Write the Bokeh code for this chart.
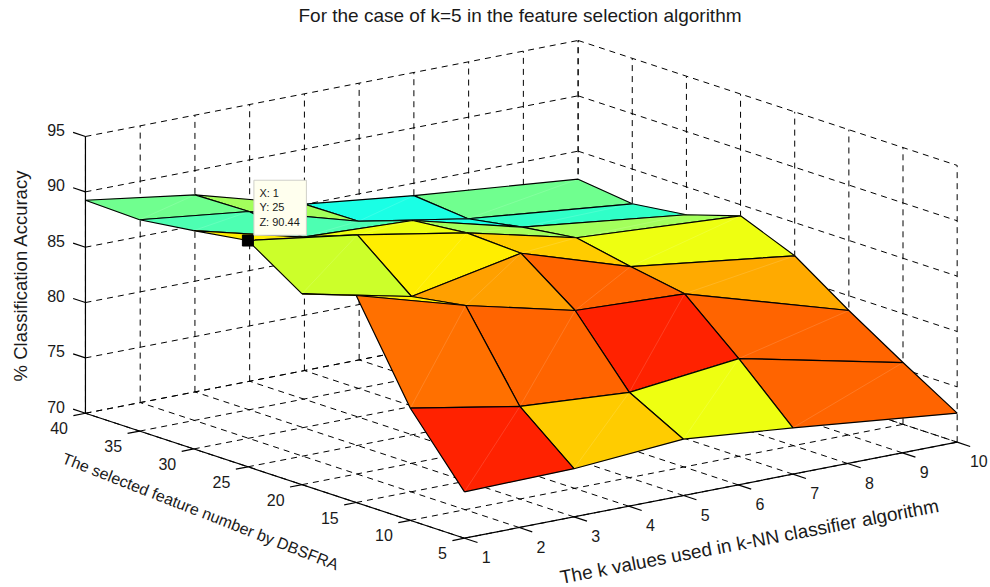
from bokeh.plotting import figure
from bokeh.models import Range1d
from bokeh.embed import file_html
from bokeh.resources import INLINE
from bokeh.core.properties import value

TITLE = "For the case of k=5 in the feature selection algorithm"
X_LABEL = "The k values used in k-NN classifier algorithm"
Y_LABEL = "The selected feature number by DBSFRA"
Z_LABEL = "% Classification Accuracy"

x_ticks = [1, 2, 3, 4, 5, 6, 7, 8, 9, 10]
y_ticks = [5, 10, 15, 20, 25, 30, 35, 40]
z_ticks = [70, 75, 80, 85, 90, 95]

k_values = [1, 3, 5, 7, 10]
feature_numbers = [5, 10, 15, 20, 25, 30, 35, 40]
acc_f5 = [74.19, 74.35, 75.09, 74.19, 72.62]
acc_f10 = [80.13, 78.36, 77.71, 78.83, 75.58]
acc_f15 = [88.70, 85.87, 83.49, 83.07, 78.67]
acc_f20 = [87.24, 85.07, 87.05, 83.92, 82.00]
acc_f25 = [90.44, 89.03, 87.28, 84.91, 84.00]
acc_f30 = [89.73, 87.20, 86.78, 84.25, 82.48]
acc_f35 = [89.09, 87.91, 85.10, 83.40, 81.86]
acc_f40 = [89.24, 87.80, 85.04, 83.88, 82.47]
accuracy = [acc_f5, acc_f10, acc_f15, acc_f20, acc_f25, acc_f30, acc_f35, acc_f40]

RED, O1, O2, O3, O4, O5 = "#ff2200", "#ff6400", "#ff7000", "#ffa000", "#ffaa00", "#ffcc00"
YE, YL, LI, LG, GR, CG, CY = "#ffee00", "#eeff11", "#ccff2a", "#a3ff5c", "#70ff8f", "#4dffb2", "#1affe5"
face_colours = [
    [RED, O5, YL, O1],
    [O2, O1, RED, O1],
    [YE, O3, O1, O4],
    [LI, YE, O5, YL],
    [YE, YL, LG, LG],
    [CG, CG, CY, "#30ffc8"],
    [GR, LG, CY, GR],
]

tip_point = (1, 25, 90.44)


def project(x, y, z):
    px = 464 + 54.74 * (x - 1) - 10.83 * (y - 5)
    py = 537.7 - 10.67 * (x - 1) - 3.57 * (y - 5) - 11.07 * (z - 70)
    return px, py


def segment(a, b):
    pa, pb = project(*a), project(*b)
    return [pa[0], pb[0]], [pa[1], pb[1]]


FONT = value("Liberation Sans")
INK = "#1a1a1a"

p = figure(width=990, height=587, output_backend="svg", toolbar_location=None,
           x_range=Range1d(0, 990), y_range=Range1d(587, 0),
           x_axis_location=None, y_axis_location=None, min_border=0)
p.grid.visible = False
p.outline_line_color = None
p.background_fill_color = "white"

xa, xb, ya, yb, za, zb = x_ticks[0], x_ticks[-1], y_ticks[0], y_ticks[-1], z_ticks[0], z_ticks[-1]

# dashed grid on floor and the two back walls
grid = []
for x in x_ticks:
    grid.append(segment((x, ya, za), (x, yb, za)))
    grid.append(segment((x, yb, za), (x, yb, zb)))
for y in y_ticks:
    grid.append(segment((xa, y, za), (xb, y, za)))
    grid.append(segment((xb, y, za), (xb, y, zb)))
for z in z_ticks:
    grid.append(segment((xa, yb, z), (xb, yb, z)))
    grid.append(segment((xb, yb, z), (xb, ya, z)))
p.multi_line([g[0] for g in grid], [g[1] for g in grid], line_color="black",
             line_width=1, line_dash="6 5")

# surface, far faces first
faces = []
for j in range(len(feature_numbers) - 1):
    for i in range(len(k_values) - 1):
        faces.append((i, j))
faces.sort(key=lambda f: project((k_values[f[0]] + k_values[f[0] + 1]) / 2,
                                 (feature_numbers[f[1]] + feature_numbers[f[1] + 1]) / 2, 70)[1])
for i, j in faces:
    corners = [(i, j), (i + 1, j), (i + 1, j + 1), (i, j + 1)]
    pts = [project(k_values[a], feature_numbers[b], accuracy[b][a]) for a, b in corners]
    p.patch([q[0] for q in pts], [q[1] for q in pts], fill_color=face_colours[j][i],
            line_color=face_colours[j][i], line_width=0.3)
    p.line([pts[0][0], pts[2][0]], [pts[0][1], pts[2][1]], line_color="white", line_width=0.5, line_alpha=0.28)
    p.line([q[0] for q in pts] + [pts[0][0]], [q[1] for q in pts] + [pts[0][1]],
           line_color="black", line_width=1.2)

# solid axes and ticks
axes = [segment((xa, ya, za), (xb, ya, za)),
        segment((xa, ya, za), (xa, yb, za)),
        segment((xa, yb, za), (xa, yb, zb))]
for x in x_ticks:
    axes.append(segment((x, ya, za), (x, ya - 1.2, za)))
for y in y_ticks:
    axes.append(segment((xa, y, za), (xa - 0.22, y, za)))
for z in z_ticks:
    axes.append(segment((xa, yb, z), (xa, yb + 1.14, z)))
p.multi_line([a[0] for a in axes], [a[1] for a in axes], line_color="black", line_width=1.2)

TICK_SIZE = "16px"
xt = [project(x, ya, za) for x in x_ticks]
p.text([q[0] for q in xt], [q[1] for q in xt], text=[str(x) for x in x_ticks], x_offset=21.7, y_offset=19,
       text_font=FONT, text_font_size=TICK_SIZE, text_color=INK, text_align="center", text_baseline="middle")
yt = [project(xa, y, za) for y in y_ticks]
p.text([q[0] for q in yt], [q[1] for q in yt], text=[str(y) for y in y_ticks], x_offset=-17.5, y_offset=15,
       text_font=FONT, text_font_size=TICK_SIZE, text_color=INK, text_align="right", text_baseline="middle")
zt = [project(xa, yb, z) for z in z_ticks]
p.text([q[0] for q in zt], [q[1] for q in zt], text=[str(z) for z in z_ticks], x_offset=-20.5, y_offset=-6.5,
       text_font=FONT, text_font_size=TICK_SIZE, text_color=INK, text_align="right", text_baseline="middle")


def caption(text, x, y, angle, size):
    p.text([x], [y], text=[text], angle=angle, angle_units="deg", text_font=FONT, text_font_size=size,
           text_color=INK, text_align="center", text_baseline="middle")


caption(TITLE, 519.5, 15, 0, "19px")
caption(X_LABEL, 749, 541, 10.8, "19px")
caption(Y_LABEL, 200, 511, -21.4, "16px")
caption(Z_LABEL, 20, 275, 90, "18.5px")

# data tip
tx, ty = project(*tip_point)
p.scatter([tx], [ty], marker="square", size=11, fill_color="black", line_color="black")
p.quad(left=[tx + 6], right=[tx + 58.5], top=[ty - 60.3], bottom=[ty - 5.3],
       fill_color="#ffffee", line_color="#cfcfc8", line_width=1)
tip_lines = [f"X: {tip_point[0]}", f"Y: {tip_point[1]}", f"Z: {tip_point[2]}"]
p.text([tx] * 3, [ty] * 3, text=tip_lines, x_offset=11.5, y_offset=[-47.3, -33.3, -18.3],
       text_font=FONT, text_font_size="11px", text_color=INK, text_align="left", text_baseline="middle")

open("out.html", "w").write(file_html(p, INLINE))
